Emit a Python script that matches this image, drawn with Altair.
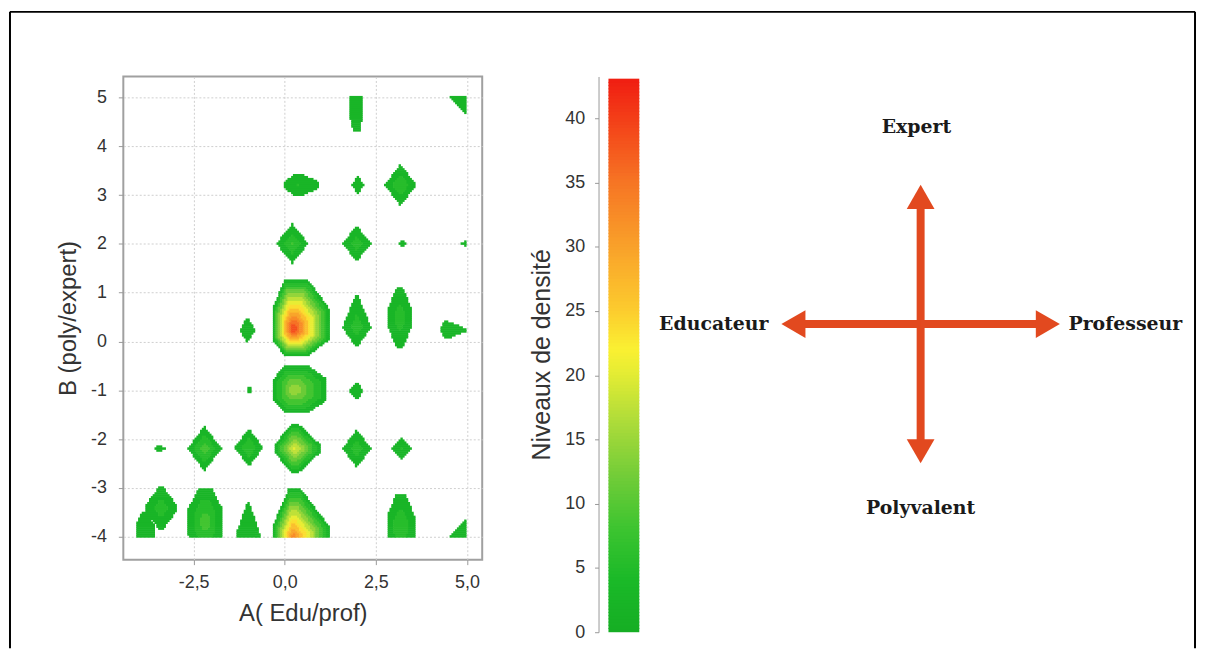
import altair as alt
import numpy as np
import pandas as pd

# ---------------- data ----------------
# density peaks: position (A, B), peak level, extents left/right (A) and down/up (B), roundness (1 = diamond)
blob_a = [1.96, 4.97, 0.35, 2.00, 3.17, 0.20, 1.97, 3.22, 4.97, 0.22, -1.03, 1.97, 3.15, 4.40, 0.24,
          -0.98, 1.97, -3.43, -2.21, -0.99, 0.26, 1.97, 3.20, -3.40, -3.85, -2.19, -1.01, 0.22, 3.18, 4.97]
blob_b = [4.90, 5.00, 3.20, 3.20, 3.20, 2.00, 2.00, 2.00, 2.00, 0.25, 0.23, 0.28, 0.48, 0.23, -1.00,
          -1.00, -1.02, -2.20, -2.20, -2.18, -2.20, -2.20, -2.20, -3.42, -3.90, -3.70, -4.00, -4.00, -3.80, -4.00]
blob_peak = [4, 4, 4, 3, 7, 7, 6, 2, 2, 41, 4, 6, 6, 4, 16,
             2, 4, 2, 9, 7, 20, 6, 4, 6, 4, 9, 4, 33, 7, 4]
blob_left = [0.17, 0.43, 0.35, 0.18, 0.42, 0.43, 0.39, 0.09, 0.16, 0.56, 0.21, 0.39, 0.34, 0.13, 0.55,
             0.07, 0.19, 0.14, 0.46, 0.39, 0.54, 0.39, 0.25, 0.42, 0.30, 0.46, 0.33, 0.56, 0.37, 0.43]
blob_right = [0.17, 0.43, 0.55, 0.18, 0.42, 0.43, 0.39, 0.09, 0.16, 1.00, 0.21, 0.39, 0.34, 0.57, 0.89,
              0.07, 0.19, 0.14, 0.46, 0.39, 0.71, 0.39, 0.25, 0.42, 0.30, 0.46, 0.33, 1.00, 0.37, 0.43]
blob_down = [0.62, 0.37, 0.21, 0.17, 0.43, 0.40, 0.36, 0.06, 0.07, 0.55, 0.26, 0.41, 0.61, 0.17, 0.47,
             0.08, 0.19, 0.09, 0.45, 0.38, 0.50, 0.38, 0.22, 0.42, 0.40, 0.68, 0.72, 0.98, 0.65, 0.36]
blob_up = [0.62, 0.37, 0.21, 0.17, 0.43, 0.40, 0.36, 0.06, 0.07, 1.02, 0.26, 0.71, 0.62, 0.17, 0.50,
           0.08, 0.19, 0.09, 0.45, 0.38, 0.50, 0.38, 0.22, 0.42, 0.40, 0.68, 0.72, 0.98, 0.65, 0.36]
blob_k = [1.5, 1.0, 1.3, 1.0, 1.0, 1.0, 1.0, 1.0, 1.0, 1.4, 1.0, 1.0, 1.25, 1.15, 1.45,
          1.0, 1.0, 1.0, 1.0, 1.0, 1.15, 1.0, 1.0, 1.15, 1.2, 1.4, 1.05, 1.2, 1.35, 1.0]

data_a_range = [-4.05, 4.97]
data_b_range = [-4.0, 5.0]

x_ticks = [-2.5, 0, 2.5, 5]
y_ticks = [-4, -3, -2, -1, 0, 1, 2, 3, 4, 5]
cb_ticks = [0, 5, 10, 15, 20, 25, 30, 35, 40]
cb_max = 43

color_stops = [0, 4, 8, 12, 16, 20, 22, 25, 30, 35, 40, 43]
color_hex = ["#16ae24", "#1ab928", "#3cc430", "#70cc38", "#a8da3a", "#e2ec34", "#faf032",
             "#fccc2e", "#f9a12a", "#f67524", "#f33e18", "#f01e12"]

# diagram
arrow_dx = [0, 0, -1, 1]
arrow_dy = [1, -1, 0, 0]
arrow_shape = ["triangle-up", "triangle-down", "triangle-left", "triangle-right"]
label_text = ["Expert", "Polyvalent", "Educateur", "Professeur"]
label_x = [-0.03, 0.0, -1.486, 1.471]
label_y = [1.414, -1.321, 0.0, 0.0]

# ---------------- density surface -> filled contour bands ----------------
t0, step = 1.0, 3.0
da, db = 0.05, 0.04
A = np.round(np.arange(data_a_range[0], data_a_range[1] + 1e-9, da), 4)
B = np.round(np.arange(data_b_range[0], data_b_range[1] + 1e-9, db), 4)
AA, BB = np.meshgrid(A, B)
F = np.zeros_like(AA)
for a, b, c, rl, rr, rd, ru, k in zip(blob_a, blob_b, blob_peak, blob_left, blob_right,
                                      blob_down, blob_up, blob_k):
    u = np.where(AA < a, (a - AA) / rl, (AA - a) / rr)
    v = np.where(BB < b, (b - BB) / rd, (BB - b) / ru)
    d = np.maximum(np.maximum(u, v), (u + v) / k)
    f = np.where(d <= 1, t0 + (c - t0) * (1 - d), 0)
    F = np.maximum(F, f)
band = np.where(F >= t0, np.floor((F - t0) / step), -1)

rows = []
n = len(A)
for j, b in enumerate(B):
    i = 0
    while i < n:
        if band[j, i] < 0:
            i += 1
            continue
        s = i
        while i + 1 < n and band[j, i + 1] == band[j, s]:
            i += 1
        rows.append(dict(a0=A[s] - da / 2, a1=A[i] + da / 2 + da * 0.3,
                         b0=b - db / 2, b1=b + db / 2 + db * 0.3,
                         lvl=t0 + (band[j, s] + 0.5) * step))
        i += 1
cont_df = pd.DataFrame(rows).sort_values("lvl", kind="stable")

cscale = alt.Scale(domain=color_stops, range=color_hex, interpolate="rgb")

lab_font = "Liberation Sans"
xaxis = alt.Axis(values=x_ticks, title="A( Edu/prof)",
                 labelExpr="replace(replace(format(datum.value, '.1f'), '.', ','), '\u2212', '-')",
                 labelFont=lab_font, labelFontSize=18, labelColor="#333", labelPadding=9,
                 titleFont=lab_font, titleFontSize=24, titleFontWeight="normal", titleColor="#333", titlePadding=10,
                 tickColor="#999", tickSize=5, domain=False,
                 grid=True, gridColor="#cfcfcf", gridDash=[2, 2])
yaxis = alt.Axis(values=y_ticks, title="B (poly/expert)",
                 labelExpr="replace(format(datum.value, 'd'), '\u2212', '-')",
                 labelFont=lab_font, labelFontSize=18, labelColor="#333", labelPadding=12,
                 titleFont=lab_font, titleFontSize=24, titleFontWeight="normal", titleColor="#333", titlePadding=10,
                 tickColor="#999", tickSize=5, domain=False,
                 grid=True, gridColor="#cfcfcf", gridDash=[2, 2])

contour = alt.Chart(cont_df).mark_rect(strokeWidth=0).encode(
    x=alt.X("a0:Q", scale=alt.Scale(domain=[-4.43, 5.42], nice=False, zero=False), axis=xaxis),
    x2="a1:Q",
    y=alt.Y("b0:Q", scale=alt.Scale(domain=[-4.47, 5.43], nice=False, zero=False), axis=yaxis),
    y2="b1:Q",
    color=alt.Color("lvl:Q", scale=cscale, legend=None),
)

one = pd.DataFrame({"d": [0]})
frame_top = alt.Chart(one).mark_rule(color="black", strokeWidth=2).encode(
    x=alt.value(-114), x2=alt.value(1078), y=alt.value(-65))
frame_left = alt.Chart(one).mark_rule(color="black", strokeWidth=2).encode(
    x=alt.value(-114), y=alt.value(-65), y2=alt.value(575))
frame_right = alt.Chart(one).mark_rule(color="black", strokeWidth=2).encode(
    x=alt.value(1078), y=alt.value(-65), y2=alt.value(575))

left_panel = alt.layer(contour, frame_top, frame_left, frame_right).properties(
    width=361, height=486, view=alt.ViewBackground(stroke="#a0a0a0", strokeWidth=2))

# ---------------- colour bar ----------------
cb_v = np.arange(0, cb_max, 0.25)
cb_df = pd.DataFrame({"v0": cb_v, "v1": cb_v + 0.25 + 0.08, "vm": cb_v + 0.125})
colorbar = alt.Chart(cb_df).mark_rect(strokeWidth=0).encode(
    x=alt.value(0), x2=alt.value(31),
    y=alt.Y("v0:Q", scale=alt.Scale(domain=[0, 43.25], nice=False, zero=False),
            axis=alt.Axis(values=cb_ticks, orient="left", offset=10, title="Niveaux de densité",
                          labelFont=lab_font, labelFontSize=18, labelColor="#333", labelPadding=10,
                          titleFont=lab_font, titleFontSize=25, titleFontWeight="normal", titleColor="#333",
                          titlePadding=10, tickColor="#999", tickSize=4, domainColor="#999", grid=False)),
    y2="v1:Q",
    color=alt.Color("vm:Q", scale=cscale, legend=None),
).properties(width=31, height=559)

# ---------------- diagram ----------------
arrow_col = "#e2491f"
arr_df = pd.DataFrame({
    "x0": [0.0] * 4, "y0": [0.0] * 4,
    "x1": [0.86 * v for v in arrow_dx], "y1": [0.86 * v for v in arrow_dy],
    "hx": [0.914 * v for v in arrow_dx], "hy": [0.914 * v for v in arrow_dy],
    "shape": arrow_shape,
})
lab_df = pd.DataFrame({"t": label_text, "x": label_x, "y": label_y})
dx_scale = alt.Scale(domain=[-1.1143, 1.8857], nice=False, zero=False)
dy_scale = alt.Scale(domain=[-1.693, 1.779], nice=False, zero=False)

shafts = alt.Chart(arr_df).mark_rule(color=arrow_col, strokeWidth=8).encode(
    x=alt.X("x0:Q", scale=dx_scale, axis=None), y=alt.Y("y0:Q", scale=dy_scale, axis=None),
    x2="x1:Q", y2="y1:Q")
heads = alt.Chart(arr_df).mark_point(filled=True, opacity=1, size=780, color=arrow_col, strokeWidth=0).encode(
    x=alt.X("hx:Q", scale=dx_scale, axis=None), y=alt.Y("hy:Q", scale=dy_scale, axis=None),
    shape=alt.Shape("shape:N", scale=None))
labels = alt.Chart(lab_df).mark_text(font="DejaVu Serif", fontSize=19, fontWeight="bold", color="#1a1a1a",
                                      align="center", baseline="middle").encode(
    x=alt.X("x:Q", scale=dx_scale, axis=None), y=alt.Y("y:Q", scale=dy_scale, axis=None), text="t:N")
diagram = alt.layer(shafts, heads, labels).properties(width=420, height=486)

chart = alt.hconcat(left_panel, colorbar, diagram, spacing=127, bounds="flush").resolve_scale(
    color="independent", x="independent", y="independent"
).properties(padding=0, background="white").configure_view(stroke="transparent")

chart.save("out.html", embed_options={"renderer": "svg", "actions": False})
